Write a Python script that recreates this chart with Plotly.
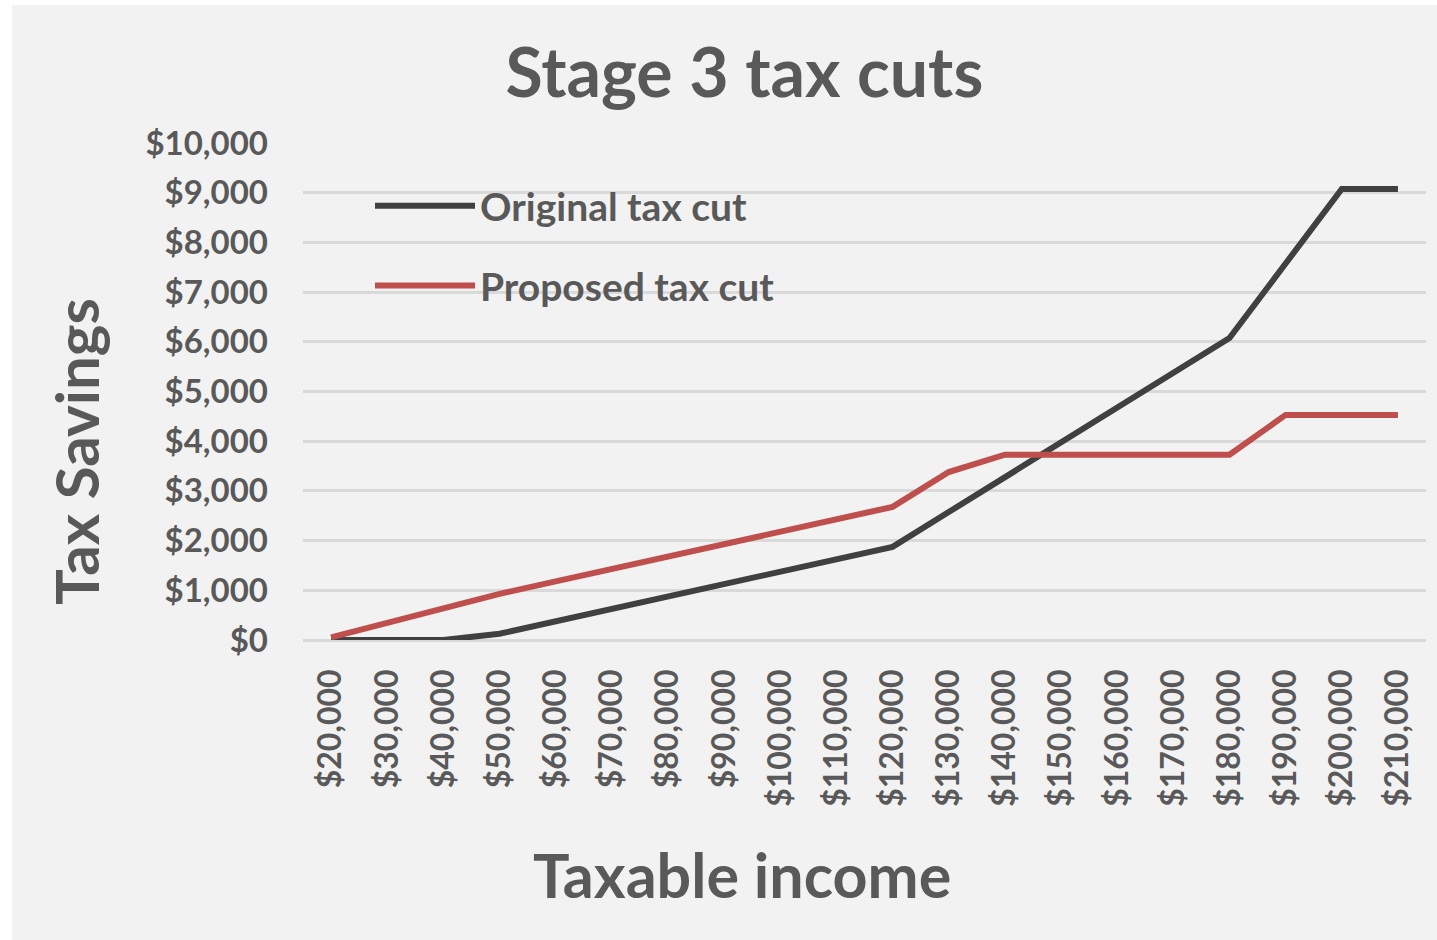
import plotly.graph_objects as go

incomes = [20000, 30000, 40000, 50000, 60000, 70000, 80000, 90000, 100000, 110000,
           120000, 130000, 140000, 150000, 160000, 170000, 180000, 190000, 200000, 210000]
income_labels = ["${:,}".format(v) for v in incomes]
original_cut = [0, 0, 0, 125, 375, 625, 875, 1125, 1375, 1625,
                1875, 2575, 3275, 3975, 4675, 5375, 6075, 7575, 9075, 9075]
proposed_cut = [54, 354, 654, 929, 1179, 1429, 1679, 1929, 2179, 2429,
                2679, 3379, 3729, 3729, 3729, 3729, 3729, 4529, 4529, 4529]
y_ticks = list(range(0, 10001, 1000))
y_tick_labels = ["${:,}".format(v) for v in y_ticks]

FONT = "Lato"
TXT = "#595959"
BG = "#f2f2f2"
GRID = "#d9d9d9"

W_FIG, H_FIG = 1437, 940
L, R, T, B = 303, 11, 143, 300
PW = W_FIG - L - R
PH = H_FIG - T - B

fig = go.Figure()
fig.add_trace(go.Scatter(x=income_labels, y=original_cut, mode="lines",
                         name="Original tax cut", legendgroup="a",
                         line=dict(color="#404040", width=6)))
fig.add_trace(go.Scatter(x=income_labels, y=proposed_cut, mode="lines",
                         name="Proposed tax cut", legendgroup="b",
                         line=dict(color="#be4f4c", width=6)))

def px_x(px):
    return (px - L) / PW

def px_y(py):
    return (H_FIG - B - py) / PH

shapes = [
    dict(type="rect", xref="paper", yref="paper", x0=px_x(-5), x1=px_x(12),
         y0=px_y(H_FIG + 5), y1=px_y(-5), fillcolor="white", line_width=0, layer="below"),
    dict(type="rect", xref="paper", yref="paper", x0=px_x(-5), x1=px_x(W_FIG + 5),
         y0=px_y(5), y1=px_y(-5), fillcolor="white", line_width=0, layer="below"),
    # legend backdrop covering gridlines
    dict(type="rect", xref="paper", yref="paper", x0=px_x(318), x1=px_x(820),
         y0=px_y(318), y1=px_y(165), fillcolor=BG, line_width=0, layer="between"),
]

annotations = [
    dict(text="<b>Taxable income</b>", xref="paper", yref="paper",
         x=px_x(742), y=px_y(875), xanchor="center", yanchor="middle",
         showarrow=False, font=dict(size=61, color=TXT, family=FONT)),
    dict(text="<b>Tax Savings</b>", xref="paper", yref="paper", textangle=-90,
         x=px_x(76), y=px_y(452), xanchor="center", yanchor="middle",
         showarrow=False, font=dict(size=60, color=TXT, family=FONT)),
]

fig.update_layout(
    width=W_FIG, height=H_FIG,
    margin=dict(l=L, r=R, t=T, b=B, autoexpand=False),
    paper_bgcolor=BG, plot_bgcolor=BG,
    font=dict(family=FONT, color=TXT),
    title=dict(text="<b>Stage 3 tax cuts</b>", x=0.518, xanchor="center",
               y=1 - 73 / H_FIG, yanchor="middle", yref="container",
               font=dict(size=68, color=TXT, family=FONT)),
    showlegend=True,
    legend=dict(x=px_x(370), y=px_y(174), xanchor="left", yanchor="top",
                bgcolor="rgba(0,0,0,0)", borderwidth=0, tracegroupgap=26, itemwidth=100,
                font=dict(size=39, color=TXT, family=FONT, weight="bold")),
    shapes=shapes,
    annotations=annotations,
    xaxis=dict(type="category", range=[-0.5, 19.5], tickangle=-90,
               showgrid=False, zeroline=False, showline=False, ticks="",
               ticklabelstandoff=22,
               tickfont=dict(size=32, color=TXT, family=FONT, weight="bold")),
    yaxis=dict(range=[0, 10000], tickvals=y_ticks, ticktext=y_tick_labels,
               showgrid=True, gridcolor=GRID, gridwidth=2.5,
               zeroline=True, zerolinecolor=GRID, zerolinewidth=2.5,
               showline=False, ticks="", ticklabelstandoff=34,
               tickfont=dict(size=33, color=TXT, family=FONT, weight="bold")),
)

fig.write_html("out.html")
